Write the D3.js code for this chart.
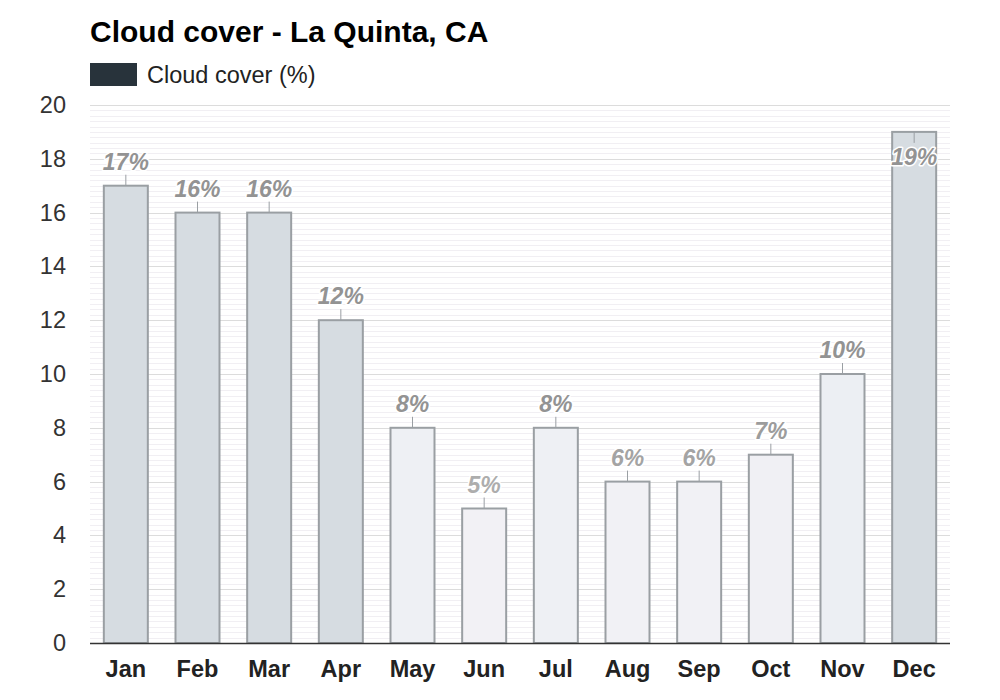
<!DOCTYPE html>
<html>
<head>
<meta charset="utf-8">
<script src="https://cdn.jsdelivr.net/npm/d3@7"></script>
<style>
  body { margin: 0; background: #fff; }
  svg { font-family: "Liberation Sans", Arial, sans-serif; }
</style>
</head>
<body>
<svg id="chart"></svg>
<script>
const months = ["Jan", "Feb", "Mar", "Apr", "May", "Jun", "Jul", "Aug", "Sep", "Oct", "Nov", "Dec"];
const cloudCover = [17, 16, 16, 12, 8, 5, 8, 6, 6, 7, 10, 19];
const yTicks = [0, 2, 4, 6, 8, 10, 12, 14, 16, 18, 20];

const width = 1000;
const height = 700;
const margin = { top: 105, right: 50, bottom: 57, left: 90 };
const plotW = width - margin.left - margin.right;
const plotH = height - margin.top - margin.bottom;

const svg = d3.select("#chart").attr("width", width).attr("height", height);

// title + legend
svg.append("text")
  .attr("x", 90).attr("y", 42)
  .attr("font-size", 30).attr("font-weight", "bold").attr("fill", "#000")
  .text("Cloud cover - La Quinta, CA");

svg.append("rect")
  .attr("x", 90).attr("y", 63).attr("width", 47).attr("height", 23)
  .attr("fill", "#28333b");
svg.append("text")
  .attr("x", 147).attr("y", 83)
  .attr("font-size", 23.5).attr("fill", "#222")
  .text("Cloud cover (%)");

const g = svg.append("g").attr("transform", `translate(${margin.left},${margin.top})`);

const x = d3.scaleBand().domain(months).range([0, plotW]).paddingInner(0.386).paddingOuter(0.193);
const y = d3.scaleLinear().domain([0, 20]).range([plotH, 0]);

const barColor = d3.scaleLinear().domain([5, 10, 12]).range(["#f2f1f5", "#eceff3", "#d6dce1"]).clamp(true);
const labelColor = d3.scaleLinear().domain([5, 8]).range(["#adadad", "#939393"]).clamp(true);

// minor grid every 0.2
const minor = d3.range(0, 20.001, 0.2).filter(v => Math.abs(v / 2 - Math.round(v / 2)) > 1e-6);
g.append("g")
  .selectAll("line")
  .data(minor)
  .enter()
  .append("line")
  .attr("x1", 0).attr("x2", plotW)
  .attr("y1", d => Math.round(y(d)) + 0.5).attr("y2", d => Math.round(y(d)) + 0.5)
  .attr("stroke", "#f1eff3");

// major grid
g.append("g")
  .selectAll("line")
  .data(yTicks.slice(1))
  .enter()
  .append("line")
  .attr("x1", 0).attr("x2", plotW)
  .attr("y1", d => Math.round(y(d)) + 0.5).attr("y2", d => Math.round(y(d)) + 0.5)
  .attr("stroke", "#dcdcdc");

// bars
g.append("g")
  .selectAll("rect")
  .data(cloudCover)
  .enter()
  .append("rect")
  .attr("x", (d, i) => x(months[i]))
  .attr("y", d => y(d))
  .attr("width", x.bandwidth())
  .attr("height", d => plotH - y(d))
  .attr("fill", d => barColor(d))
  .attr("stroke", "#9a9fa3")
  .attr("stroke-width", 2);

// value labels
const labels = g.append("g")
  .selectAll("g")
  .data(cloudCover)
  .enter()
  .append("g")
  .attr("transform", (d, i) => `translate(${x(months[i]) + x.bandwidth() / 2},${y(d)})`);

labels.append("line")
  .attr("x1", 0).attr("x2", 0)
  .attr("y1", 0)
  .attr("y2", d => y(d) < 40 ? 11 : -11)
  .attr("stroke", "#9a9fa3").attr("stroke-width", 1);

labels.append("text")
  .attr("y", d => y(d) < 40 ? 33 : -16)
  .attr("text-anchor", "middle")
  .attr("font-size", 23).attr("font-weight", "bold").attr("font-style", "italic")
  .attr("fill", d => labelColor(d))
  .attr("stroke", "#fff").attr("stroke-width", 3).attr("paint-order", "stroke")
  .attr("stroke-linejoin", "round")
  .text(d => d + "%");

// x axis
const xAxis = g.append("g")
  .attr("transform", `translate(0,${plotH})`)
  .call(d3.axisBottom(x).tickSize(0).tickPadding(17));
xAxis.select("path").attr("stroke", "#333").attr("stroke-width", 1.5).attr("d", `M0,0.5H${plotW}`);
xAxis.selectAll("text")
  .attr("font-size", 23.5).attr("font-weight", "bold").attr("fill", "#222")
  .attr("font-family", "Liberation Sans, Arial, sans-serif");

// y axis
const yAxis = g.append("g")
  .call(d3.axisLeft(y).tickValues(yTicks).tickSize(0).tickPadding(24));
yAxis.select("path").remove();
yAxis.selectAll("text")
  .attr("font-size", 23.5).attr("fill", "#333")
  .attr("font-family", "Liberation Sans, Arial, sans-serif");
</script>
</body>
</html>
